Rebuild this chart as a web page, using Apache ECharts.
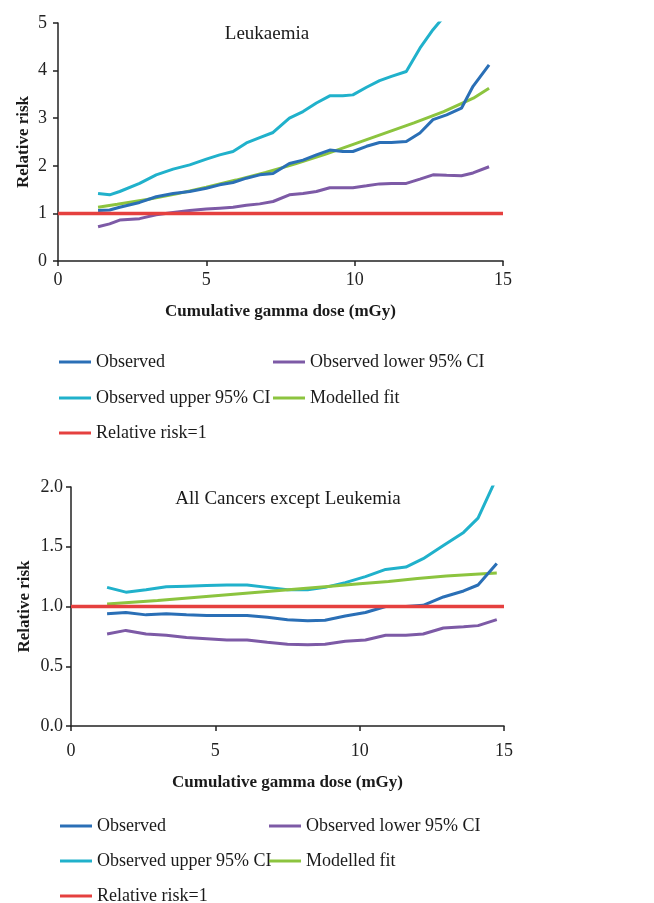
<!DOCTYPE html>
<html><head><meta charset="utf-8">
<script src="https://cdn.jsdelivr.net/npm/echarts@6/dist/echarts.min.js"></script>
<style>html,body{margin:0;padding:0;background:#fff}#c{width:654px;height:903px}</style>
</head><body><div id="c"></div>
<script>
// ---------- Data: Leukaemia (top) ----------
const leukDose   = [1.35,1.74,2.08,2.75,3.31,3.88,4.44,5.0,5.45,5.9,6.35,6.8,7.25,7.8,8.26,8.71,9.16,9.6,9.94,10.4,10.84,11.24,11.74,12.2,12.64,13.1,13.6,13.99,14.53];
const leukObserved = [1.06,1.07,1.13,1.23,1.35,1.42,1.46,1.53,1.60,1.65,1.74,1.81,1.84,2.05,2.12,2.23,2.33,2.30,2.30,2.41,2.49,2.49,2.51,2.69,2.97,3.07,3.21,3.67,4.12];
const leukLower    = [0.72,0.78,0.86,0.89,0.97,1.02,1.06,1.09,1.11,1.13,1.17,1.20,1.25,1.39,1.42,1.46,1.54,1.54,1.54,1.58,1.62,1.63,1.63,1.72,1.81,1.80,1.79,1.85,1.98];
const leukUpper    = [1.42,1.39,1.46,1.63,1.81,1.93,2.02,2.14,2.23,2.30,2.48,2.59,2.70,3.00,3.14,3.32,3.47,3.47,3.49,3.65,3.79,3.88,3.98,4.47,4.86,5.20,null,null,null];
const leukFitDose  = [1.35,2,3,4,5,6,7,8,9,10,11,12,13,14,14.53];
const leukFit      = [1.13,1.19,1.29,1.41,1.55,1.70,1.86,2.04,2.24,2.46,2.68,2.90,3.14,3.42,3.63];

// ---------- Data: All cancers except leukemia (bottom) ----------
const canDose      = [1.25,1.9,2.6,3.3,4.0,4.7,5.4,6.1,6.8,7.5,8.2,8.8,9.5,10.2,10.9,11.6,12.2,12.9,13.6,14.1,14.75];
const canObserved  = [0.94,0.95,0.93,0.94,0.93,0.925,0.925,0.925,0.91,0.89,0.88,0.885,0.92,0.95,1.00,1.00,1.01,1.08,1.13,1.18,1.36];
const canLower     = [0.77,0.80,0.77,0.76,0.74,0.73,0.72,0.72,0.70,0.685,0.68,0.685,0.71,0.72,0.76,0.76,0.77,0.82,0.83,0.84,0.89];
const canUpper     = [1.16,1.12,1.14,1.165,1.17,1.175,1.18,1.18,1.16,1.14,1.14,1.16,1.20,1.25,1.31,1.33,1.40,1.51,1.62,1.74,2.08];
const canFitDose   = [1.25,3,5,7,9,10,11,12,13,14,14.75];
const canFit       = [1.02,1.05,1.09,1.13,1.17,1.19,1.21,1.235,1.255,1.27,1.28];

// ---------- Reference line & ticks ----------
const refDose = [0,15];
const refRisk = [1,1];
const xTicks = [0,5,10,15];
const yTicksTop = [0,1,2,3,4,5];
const yTicksBottom = [0.0,0.5,1.0,1.5,2.0];

const names = ['Observed','Observed lower 95% CI','Observed upper 95% CI','Modelled fit','Relative risk=1'];
const colors = {'Observed':'#2a6fb6','Observed lower 95% CI':'#7d5aa6','Observed upper 95% CI':'#20b1cb','Modelled fit':'#8cc43f','Relative risk=1':'#e5403f'};

const FONT = 'Liberation Serif';
const pair = (xs, ys) => xs.map((x,i)=>[x, ys[i]]);

function mkSeries(idx, dose, obs, low, up, fd, fit){
  const mk = (name, data, w) => ({
    name, type:'line', xAxisIndex:idx, yAxisIndex:idx, data, symbol:'none', showSymbol:false,
    lineStyle:{color:colors[name], width:w}, itemStyle:{color:colors[name]}, clip:true, silent:true, animation:false
  });
  return [
    mk('Observed upper 95% CI', pair(dose, up), 3),
    mk('Modelled fit', pair(fd, fit), 3),
    mk('Observed', pair(dose, obs), 3),
    mk('Observed lower 95% CI', pair(dose, low), 3),
    mk('Relative risk=1', pair(refDose, refRisk), 3.5)
  ];
}

function xAxis(idx, gap, margin){
  return {
    type:'value', gridIndex:idx, min:xTicks[0], max:xTicks[xTicks.length-1], interval:5,
    name:'Cumulative gamma dose (mGy)', nameLocation:'middle', nameGap:gap, nameMoveOverlap:false,
    nameTextStyle:{fontFamily:FONT, fontWeight:'bold', fontSize:17, color:'#1a1a1a'},
    axisLine:{lineStyle:{color:'#222', width:1.5}},
    axisTick:{show:true, length:5, lineStyle:{color:'#222', width:1.5}},
    axisLabel:{fontFamily:FONT, fontSize:18, color:'#222', margin:margin},
    splitLine:{show:false}
  };
}
function yAxis(idx, max, interval, gap, margin, dec){
  return {
    type:'value', gridIndex:idx, min:0, max:max, interval:interval,
    name:'Relative risk', nameLocation:'middle', nameGap:gap, nameMoveOverlap:false,
    nameTextStyle:{fontFamily:FONT, fontWeight:'bold', fontSize:17, color:'#1a1a1a'},
    axisLine:{show:true, lineStyle:{color:'#222', width:1.5}},
    axisTick:{show:true, length:5, lineStyle:{color:'#222', width:1.5}},
    axisLabel:{fontFamily:FONT, fontSize:18, color:'#222', margin:margin,
      formatter:v=>dec? v.toFixed(1) : String(v)},
    splitLine:{show:false}
  };
}
function legend(left, top, gap, data){
  return {
    orient:'vertical', left, top, padding:0, data, icon:'rect', itemWidth:32, itemHeight:3, itemGap:gap,
    selectedMode:false,
    textStyle:{fontFamily:FONT, fontSize:18, lineHeight:16, color:'#1a1a1a', padding:[0,0,0,0]}
  };
}

const chart = echarts.init(document.getElementById('c'), null, {renderer:'canvas'});
chart.setOption({
  backgroundColor:'#ffffff',
  animation:false,
  title:[
    {text:'Leukaemia', left:267, top:25, textAlign:'center', padding:0,
     textStyle:{fontFamily:FONT, fontWeight:'normal', fontSize:19, color:'#1a1a1a'}},
    {text:'All Cancers except Leukemia', left:288, top:490, textAlign:'center', padding:0,
     textStyle:{fontFamily:FONT, fontWeight:'normal', fontSize:19, color:'#1a1a1a'}}
  ],
  grid:[
    {left:58, top:23, width:445, height:238, containLabel:false},
    {left:71, top:487, width:433, height:239, containLabel:false}
  ],
  xAxis:[xAxis(0, 42, 10), xAxis(1, 48, 16)],
  yAxis:[yAxis(0, 5, 1, 26, 11, false), yAxis(1, 2, 0.5, 38, 8, true)],
  legend:[
    legend(59, 353, 18, [names[0], names[2]]),
    legend(273, 353, 18, [names[1], names[3]]),
    legend(59, 424, 18, [names[4]]),
    legend(60, 817, 17, [names[0], names[2]]),
    legend(269, 817, 17, [names[1], names[3]]),
    legend(60, 887, 17, [names[4]])
  ],
  series:[
    ...mkSeries(0, leukDose, leukObserved, leukLower, leukUpper, leukFitDose, leukFit),
    ...mkSeries(1, canDose, canObserved, canLower, canUpper, canFitDose, canFit)
  ]
});
</script></body></html>
